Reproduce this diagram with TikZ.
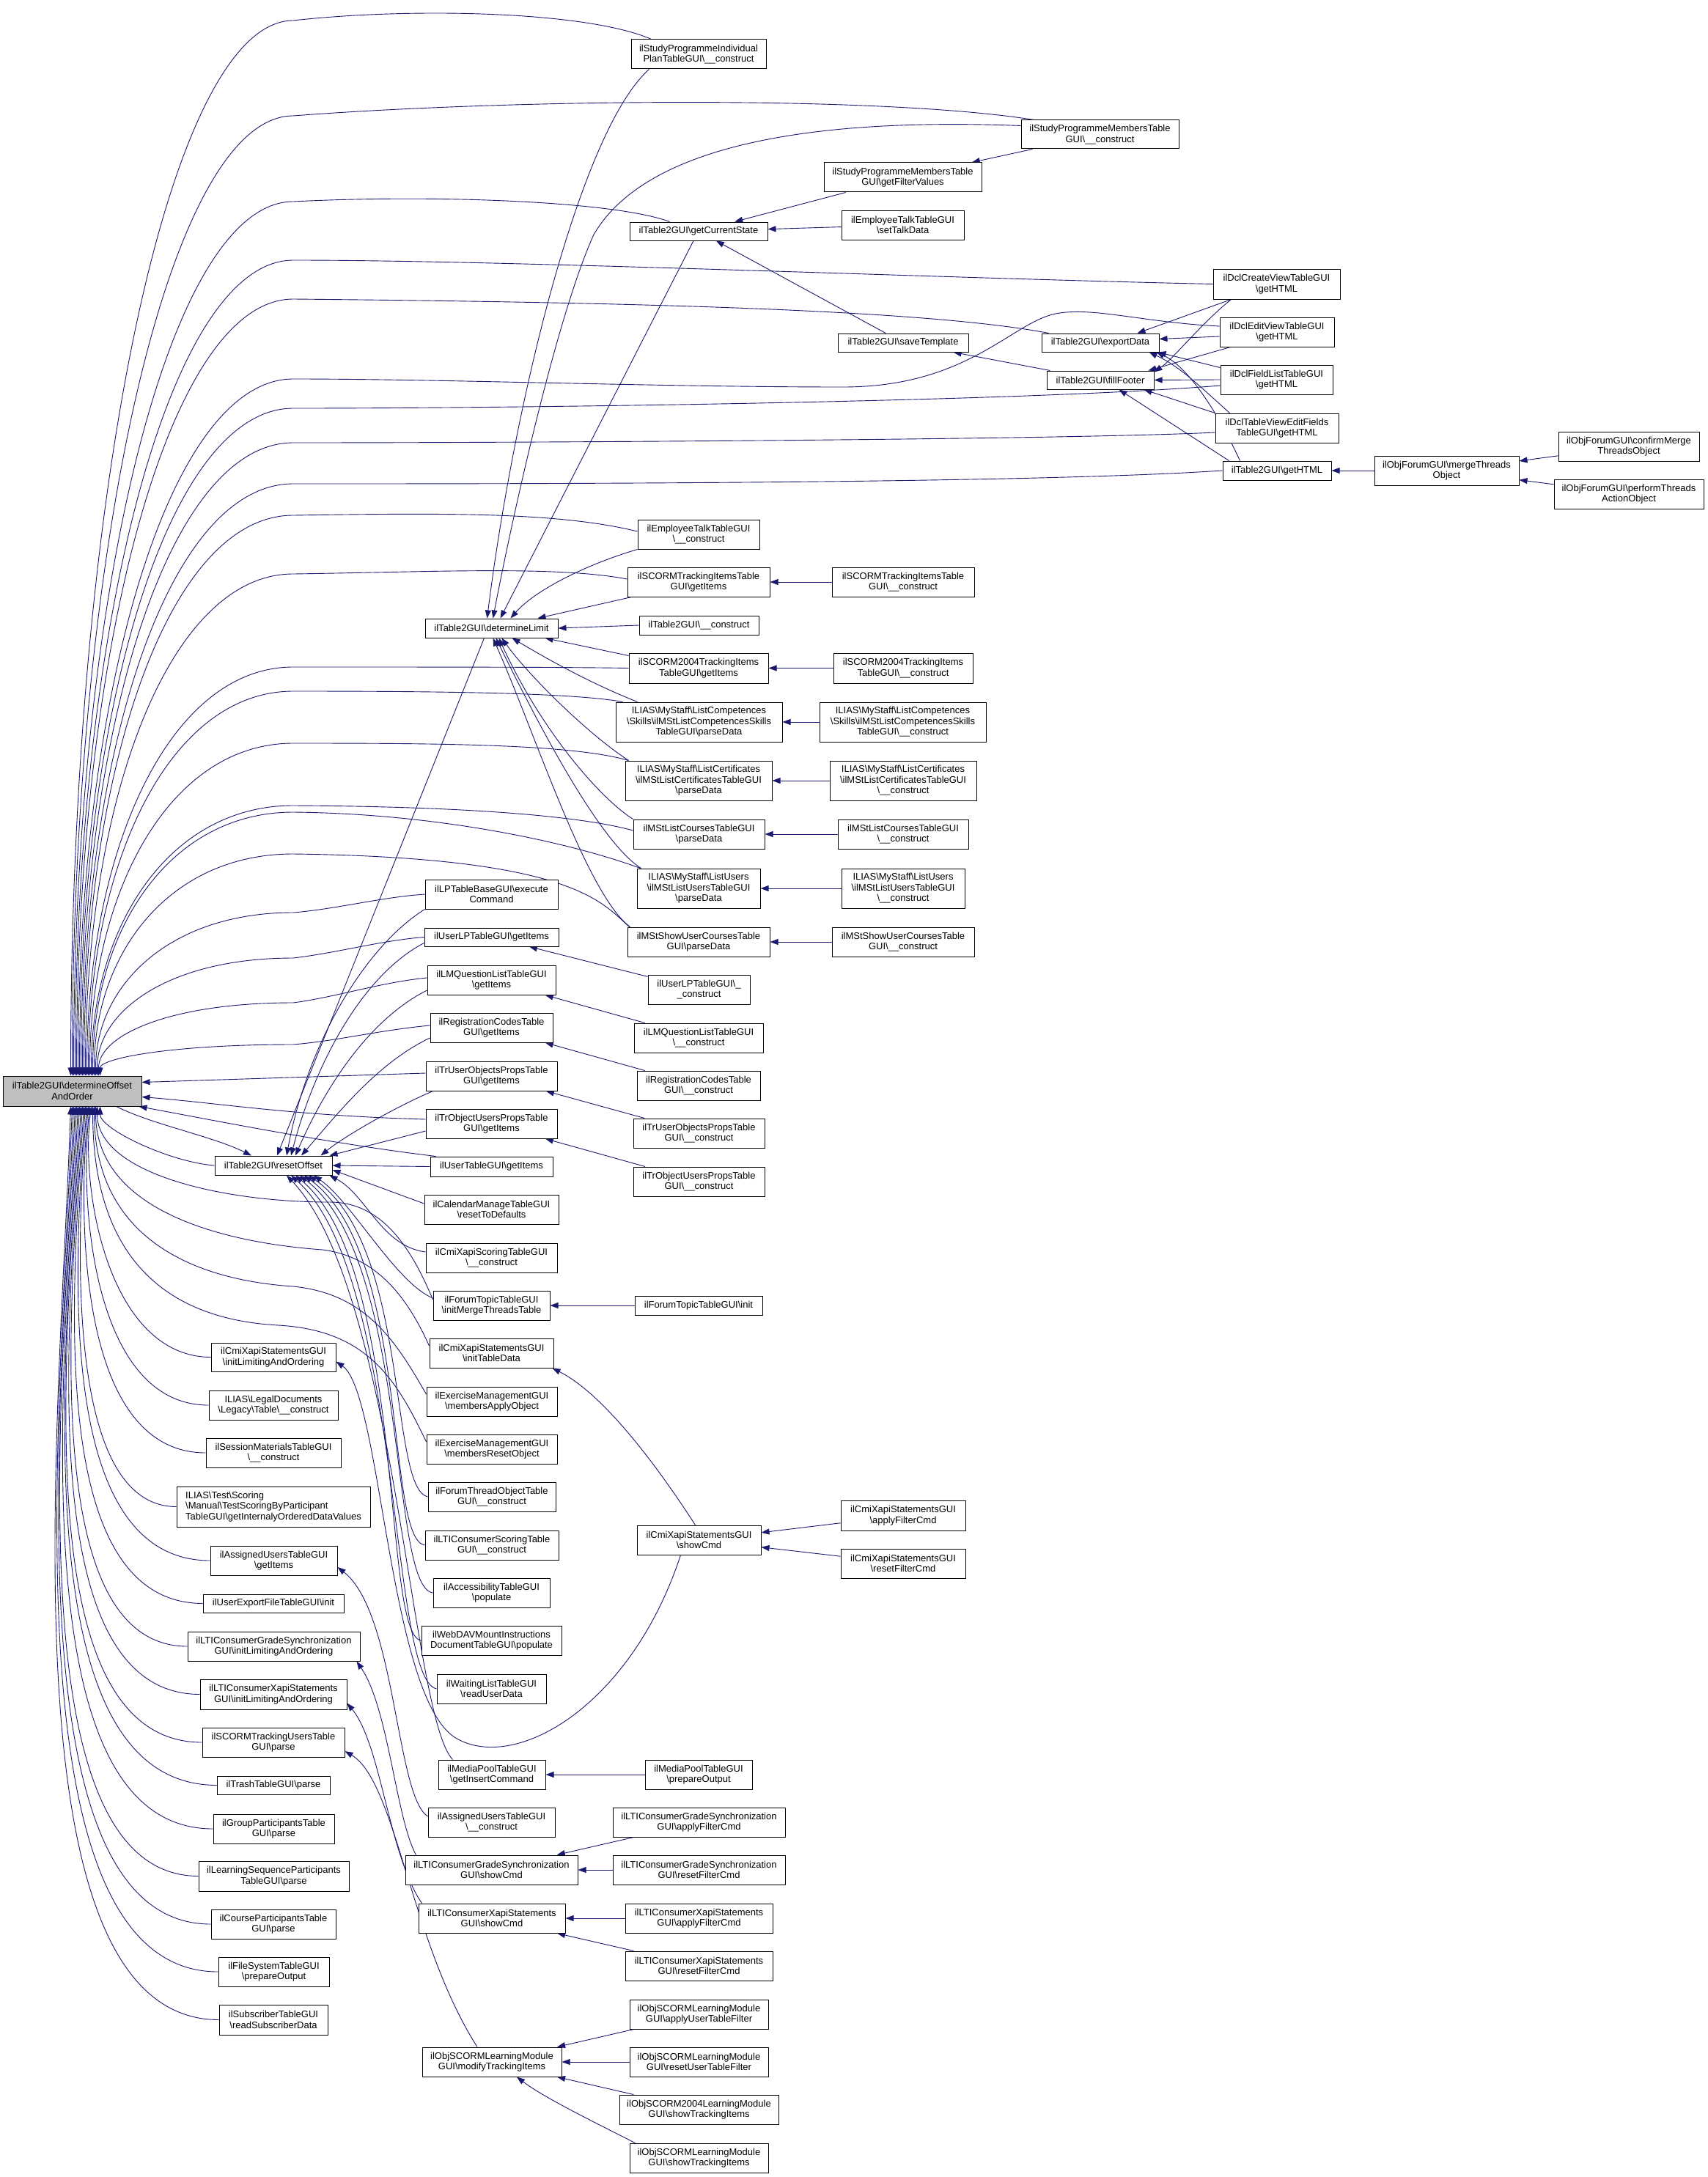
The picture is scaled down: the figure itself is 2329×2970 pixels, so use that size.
\documentclass[tikz,border=0pt]{standalone}
\usepackage{fontspec}
\setmainfont{Liberation Sans}
\usetikzlibrary{arrows.meta}
\definecolor{eblue}{HTML}{191970}
\definecolor{rootgray}{HTML}{BFBFBF}
\newcommand\bsl{\textbackslash}
\newcommand\gbox[7][]{\node[box,#1,minimum width={(#5-#3)*1pt},minimum height={(#6-#4)*1pt}] (#2) at ({(#3+#5)/2},{(#4+#6)/2}) {#7};}
\newcommand\upE[4]{\draw[edge] #1 .. controls #2 .. (400,#3) .. controls (230,#3) and ({98.5+#4},{#3+0.45*(1468-#3)}) .. ([xshift=#4pt]R.north);}
\newcommand\dnE[4]{\draw[edge] #1 .. controls (#2,#3) and ({83.5+#4},{1509+0.35*(#3-1509)}) .. ([xshift=#4pt]R.south);}
\pgfdeclarelayer{bg}
\pgfsetlayers{bg,main}
\tikzset{
  box/.style={draw=black, fill=white, line width=1pt, inner sep=0pt, align=center, font=\fontsize{13}{14.5}\selectfont},
  edge/.style={draw=eblue, line width=0.9pt, -{Triangle[length=11pt,width=8pt]}},
}
\begin{document}
\begin{tikzpicture}[x=1pt,y=-1pt]
\useasboundingbox (0,0) rectangle (2329,2970);
% ---------------- nodes ----------------
\gbox[fill=rootgray]{R}{4}{1468}{193}{1509}{ilTable2GUI\bsl determineOffset\\AndOrder}
\gbox{S}{293}{1577}{453}{1603}{ilTable2GUI\bsl resetOffset}
\gbox{L}{580}{844}{761}{870}{ilTable2GUI\bsl determineLimit}
\gbox{spi}{861}{54}{1045}{94}{ilStudyProgrammeIndividual\\PlanTableGUI\bsl\_\_construct}
\gbox{spmc}{1393}{164}{1608}{203}{ilStudyProgrammeMembersTable\\GUI\bsl\_\_construct}
\gbox{spmf}{1124}{222}{1339}{262}{ilStudyProgrammeMembersTable\\GUI\bsl getFilterValues}
\gbox{gcs}{859}{303}{1047}{328}{ilTable2GUI\bsl getCurrentState}
\gbox{etset}{1148}{287}{1315}{327}{ilEmployeeTalkTableGUI\\\bsl setTalkData}
\gbox{save}{1143}{455}{1321}{480}{ilTable2GUI\bsl saveTemplate}
\gbox{exp}{1421}{455}{1581}{480}{ilTable2GUI\bsl exportData}
\gbox{ff}{1428}{506}{1574}{531}{ilTable2GUI\bsl fillFooter}
\gbox{dclc}{1655}{367}{1828}{408}{ilDclCreateViewTableGUI\\\bsl getHTML}
\gbox{dcle}{1664}{433}{1820}{473}{ilDclEditViewTableGUI\\\bsl getHTML}
\gbox{dclf}{1665}{498}{1818}{538}{ilDclFieldListTableGUI\\\bsl getHTML}
\gbox{dclt}{1658}{564}{1826}{604}{ilDclTableViewEditFields\\TableGUI\bsl getHTML}
\gbox{html}{1668}{629}{1816}{655}{ilTable2GUI\bsl getHTML}
\gbox{merge}{1875}{622}{2072}{662}{ilObjForumGUI\bsl mergeThreads\\Object}
\gbox{confirm}{2126}{589}{2318}{629}{ilObjForumGUI\bsl confirmMerge\\ThreadsObject}
\gbox{perform}{2120}{654}{2324}{694}{ilObjForumGUI\bsl performThreads\\ActionObject}
\gbox{etc}{870}{709}{1036}{749}{ilEmployeeTalkTableGUI\\\bsl\_\_construct}
\gbox{scgi}{856}{774}{1050}{814}{ilSCORMTrackingItemsTable\\GUI\bsl getItems}
\gbox{scc}{1135}{774}{1329}{814}{ilSCORMTrackingItemsTable\\GUI\bsl\_\_construct}
\gbox{t2c}{872}{840}{1035}{866}{ilTable2GUI\bsl\_\_construct}
\gbox{s04gi}{858}{891}{1048}{932}{ilSCORM2004TrackingItems\\TableGUI\bsl getItems}
\gbox{s04c}{1137}{891}{1327}{932}{ilSCORM2004TrackingItems\\TableGUI\bsl\_\_construct}
\gbox{compp}{840}{958}{1067}{1012}{ILIAS\bsl MyStaff\bsl ListCompetences\\\bsl Skills\bsl ilMStListCompetencesSkills\\TableGUI\bsl parseData}
\gbox{compc}{1118}{958}{1345}{1012}{ILIAS\bsl MyStaff\bsl ListCompetences\\\bsl Skills\bsl ilMStListCompetencesSkills\\TableGUI\bsl\_\_construct}
\gbox{certp}{853}{1038}{1053}{1092}{ILIAS\bsl MyStaff\bsl ListCertificates\\\bsl ilMStListCertificatesTableGUI\\\bsl parseData}
\gbox{certc}{1132}{1038}{1332}{1092}{ILIAS\bsl MyStaff\bsl ListCertificates\\\bsl ilMStListCertificatesTableGUI\\\bsl\_\_construct}
\gbox{coursep}{864}{1118}{1043}{1158}{ilMStListCoursesTableGUI\\\bsl parseData}
\gbox{coursec}{1143}{1118}{1321}{1158}{ilMStListCoursesTableGUI\\\bsl\_\_construct}
\gbox{usersp}{869}{1185}{1037}{1239}{ILIAS\bsl MyStaff\bsl ListUsers\\\bsl ilMStListUsersTableGUI\\\bsl parseData}
\gbox{usersc}{1148}{1185}{1316}{1239}{ILIAS\bsl MyStaff\bsl ListUsers\\\bsl ilMStListUsersTableGUI\\\bsl\_\_construct}
\gbox{showp}{856}{1265}{1050}{1305}{ilMStShowUserCoursesTable\\GUI\bsl parseData}
\gbox{showc}{1135}{1265}{1329}{1305}{ilMStShowUserCoursesTable\\GUI\bsl\_\_construct}
\gbox{lpb}{580}{1200}{761}{1240}{ilLPTableBaseGUI\bsl execute\\Command}
\gbox{ulpg}{579}{1266}{762}{1291}{ilUserLPTableGUI\bsl getItems}
\gbox{ulpc}{884}{1330}{1023}{1370}{ilUserLPTableGUI\bsl\_\\\_construct}
\gbox{lmqg}{583}{1317}{758}{1357}{ilLMQuestionListTableGUI\\\bsl getItems}
\gbox{lmqc}{865}{1396}{1041}{1436}{ilLMQuestionListTableGUI\\\bsl\_\_construct}
\gbox{regg}{587}{1382}{754}{1422}{ilRegistrationCodesTable\\GUI\bsl getItems}
\gbox{regc}{869}{1461}{1037}{1501}{ilRegistrationCodesTable\\GUI\bsl\_\_construct}
\gbox{truog}{581}{1448}{760}{1488}{ilTrUserObjectsPropsTable\\GUI\bsl getItems}
\gbox{truoc}{864}{1526}{1043}{1566}{ilTrUserObjectsPropsTable\\GUI\bsl\_\_construct}
\gbox{troug}{581}{1513}{760}{1553}{ilTrObjectUsersPropsTable\\GUI\bsl getItems}
\gbox{trouc}{864}{1592}{1043}{1632}{ilTrObjectUsersPropsTable\\GUI\bsl\_\_construct}
\gbox{usertg}{587}{1578}{754}{1605}{ilUserTableGUI\bsl getItems}
\gbox{cal}{579}{1630}{762}{1670}{ilCalendarManageTableGUI\\\bsl resetToDefaults}
\gbox{cmisc}{581}{1696}{760}{1736}{ilCmiXapiScoringTableGUI\\\bsl\_\_construct}
\gbox{ftim}{591}{1761}{750}{1801}{ilForumTopicTableGUI\\\bsl initMergeThreadsTable}
\gbox{fti}{866}{1768}{1040}{1794}{ilForumTopicTableGUI\bsl init}
\gbox{cmitd}{586}{1826}{755}{1866}{ilCmiXapiStatementsGUI\\\bsl initTableData}
\gbox{exa}{582}{1892}{760}{1932}{ilExerciseManagementGUI\\\bsl membersApplyObject}
\gbox{exr}{582}{1957}{760}{1997}{ilExerciseManagementGUI\\\bsl membersResetObject}
\gbox{fto}{584}{2022}{758}{2062}{ilForumThreadObjectTable\\GUI\bsl\_\_construct}
\gbox{ltisc}{580}{2088}{762}{2128}{ilLTIConsumerScoringTable\\GUI\bsl\_\_construct}
\gbox{acc}{591}{2153}{750}{2193}{ilAccessibilityTableGUI\\\bsl populate}
\gbox{webdav}{575}{2218}{766}{2258}{ilWebDAVMountInstructions\\DocumentTableGUI\bsl populate}
\gbox{wait}{596}{2284}{745}{2324}{ilWaitingListTableGUI\\\bsl readUserData}
\gbox{mpgi}{598}{2401}{744}{2441}{ilMediaPoolTableGUI\\\bsl getInsertCommand}
\gbox{mppo}{880}{2401}{1026}{2441}{ilMediaPoolTableGUI\\\bsl prepareOutput}
\gbox{auc}{584}{2466}{757}{2506}{ilAssignedUsersTableGUI\\\bsl\_\_construct}
\gbox{ltigs}{553}{2531}{788}{2571}{ilLTIConsumerGradeSynchronization\\GUI\bsl showCmd}
\gbox{ltigsa}{836}{2466}{1071}{2506}{ilLTIConsumerGradeSynchronization\\GUI\bsl applyFilterCmd}
\gbox{ltigsr}{836}{2531}{1071}{2571}{ilLTIConsumerGradeSynchronization\\GUI\bsl resetFilterCmd}
\gbox{ltixs}{571}{2597}{771}{2637}{ilLTIConsumerXapiStatements\\GUI\bsl showCmd}
\gbox{ltixa}{853}{2597}{1054}{2637}{ilLTIConsumerXapiStatements\\GUI\bsl applyFilterCmd}
\gbox{ltixr}{853}{2662}{1054}{2702}{ilLTIConsumerXapiStatements\\GUI\bsl resetFilterCmd}
\gbox{mti}{576}{2793}{766}{2833}{ilObjSCORMLearningModule\\GUI\bsl modifyTrackingItems}
\gbox{mtia}{859}{2728}{1048}{2768}{ilObjSCORMLearningModule\\GUI\bsl applyUserTableFilter}
\gbox{mtir}{859}{2793}{1048}{2833}{ilObjSCORMLearningModule\\GUI\bsl resetUserTableFilter}
\gbox{s04st}{845}{2858}{1062}{2898}{ilObjSCORM2004LearningModule\\GUI\bsl showTrackingItems}
\gbox{sst}{859}{2924}{1048}{2964}{ilObjSCORMLearningModule\\GUI\bsl showTrackingItems}
\gbox{cmis}{869}{2081}{1038}{2121}{ilCmiXapiStatementsGUI\\\bsl showCmd}
\gbox{cmisa}{1147}{2047}{1317}{2088}{ilCmiXapiStatementsGUI\\\bsl applyFilterCmd}
\gbox{cmisr}{1147}{2113}{1317}{2153}{ilCmiXapiStatementsGUI\\\bsl resetFilterCmd}
\gbox{cmil}{288}{1832}{458}{1871}{ilCmiXapiStatementsGUI\\\bsl initLimitingAndOrdering}
\gbox{legal}{285}{1897}{461}{1937}{ILIAS\bsl LegalDocuments\\\bsl Legacy\bsl Table\bsl\_\_construct}
\gbox{sess}{281}{1962}{465}{2002}{ilSessionMaterialsTableGUI\\\bsl\_\_construct}
\gbox[align=left]{tsc}{241}{2028}{505}{2083}{ILIAS\bsl Test\bsl Scoring\\\bsl Manual\bsl TestScoringByParticipant\\TableGUI\bsl getInternalyOrderedDataValues}
\gbox{augi}{287}{2109}{460}{2149}{ilAssignedUsersTableGUI\\\bsl getItems}
\gbox{uef}{277}{2175}{469}{2200}{ilUserExportFileTableGUI\bsl init}
\gbox{ltigl}{256}{2226}{491}{2266}{ilLTIConsumerGradeSynchronization\\GUI\bsl initLimitingAndOrdering}
\gbox{ltixl}{273}{2291}{473}{2332}{ilLTIConsumerXapiStatements\\GUI\bsl initLimitingAndOrdering}
\gbox{scup}{276}{2357}{470}{2397}{ilSCORMTrackingUsersTable\\GUI\bsl parse}
\gbox{trash}{296}{2423}{450}{2448}{ilTrashTableGUI\bsl parse}
\gbox{group}{291}{2475}{456}{2515}{ilGroupParticipantsTable\\GUI\bsl parse}
\gbox{lsp}{271}{2539}{476}{2580}{ilLearningSequenceParticipants\\TableGUI\bsl parse}
\gbox{cpt}{288}{2605}{458}{2645}{ilCourseParticipantsTable\\GUI\bsl parse}
\gbox{fs}{298}{2670}{449}{2710}{ilFileSystemTableGUI\\\bsl prepareOutput}
\gbox{subs}{299}{2735}{447}{2776}{ilSubscriberTableGUI\\\bsl readSubscriberData}
% ---------------- edges ----------------
\begin{pgfonlayer}{bg}
\fill[white] (0,0) rectangle (2329,2970);
% root <- callers above
\upE{([xshift=28pt]spi.north west)}{(800,15) and (560,10)}{28}{-2}
\upE{([xshift=18pt]spmc.north west)}{(1200,130) and (700,135)}{158}{0}
\upE{([xshift=55pt]gcs.north west)}{(840,275) and (600,265)}{275}{2}
\upE{(dclc.west)}{(1300,380) and (700,355)}{355}{4}
\upE{([xshift=10pt]exp.north west)}{(1250,420) and (800,412)}{408}{6}
\draw[edge] ([yshift=8pt]dcle.west) .. controls (1560,440) and (1490,418) .. (1440,428) .. controls (1380,440) and (1320,528) .. (1150,528) .. controls (900,528) and (600,517) .. (400,517) .. controls (230,517) and ({98.5+8},{517+0.45*951}) .. ([xshift=8pt]R.north);
\upE{([yshift=-8pt]dclf.west)}{(1400,548) and (700,557)}{557}{10}
\upE{([yshift=-6pt]dclt.west)}{(1450,600) and (700,604)}{604}{12}
\upE{(html.west)}{(1400,660) and (700,660)}{660}{14}
\upE{([yshift=4pt]etc.west)}{(760,698) and (600,700)}{703}{16}
\upE{([yshift=4pt]scgi.west)}{(760,772) and (600,780)}{783}{18}
\upE{(s04gi.west)}{(760,910) and (600,910)}{910}{20}
\upE{([xshift=10pt]compp.north west)}{(780,945) and (600,943)}{943}{22}
\upE{([xshift=5pt]certp.north west)}{(780,1015) and (600,1014)}{1014}{24}
\upE{([yshift=5pt]coursep.west)}{(780,1110) and (600,1100)}{1099}{26}
\upE{([xshift=5pt]usersp.north west)}{(780,1150) and (600,1110)}{1108}{28}
\upE{([xshift=3pt]showp.north west)}{(820,1230) and (780,1170)}{1165}{30}
\upE{(lpb.west)}{(520,1224) and (460,1240)}{1245}{32}
\upE{(ulpg.west)}{(520,1283) and (460,1300)}{1307}{34}
\upE{([yshift=3pt]lmqg.west)}{(520,1340) and (460,1360)}{1368}{36}
\upE{([yshift=3pt]regg.west)}{(520,1405) and (460,1420)}{1425}{38}
\draw[edge] ([yshift=4pt]truog.west) -- ([yshift=12pt]R.east);
\draw[edge] ([yshift=6pt]troug.west) .. controls (400,1522) and (300,1505) .. ([yshift=-8pt]R.east);
\draw[edge] ([xshift=8pt]usertg.north west) .. controls (450,1560) and (300,1530) .. ([xshift=-4pt]R.south east);
% root <- callers below
\dnE{(cmil.west)}{150}{1851}{26}
\dnE{(legal.west)}{130}{1917}{24}
\dnE{(sess.west)}{110}{1982}{22}
\dnE{(tsc.west)}{90}{2055}{20}
\dnE{(augi.west)}{75}{2129}{18}
\dnE{(uef.west)}{60}{2187}{16}
\dnE{(ltigl.west)}{50}{2246}{14}
\dnE{(ltixl.west)}{40}{2311}{12}
\dnE{(scup.west)}{30}{2377}{10}
\dnE{(trash.west)}{25}{2435}{8}
\dnE{(group.west)}{20}{2495}{6}
\dnE{(lsp.west)}{15}{2559}{4}
\dnE{(cpt.west)}{10}{2625}{2}
\dnE{(fs.west)}{5}{2690}{0}
\dnE{(subs.west)}{0}{2755}{-2}
\draw[edge] ([yshift=8pt]ftim.west) .. controls (560,1700) and (520,1640) .. (450,1640) .. controls (300,1640) and (133,1600) .. ([xshift=34pt]R.south);
\draw[edge] ([yshift=10pt]cmitd.west) .. controls (560,1780) and (520,1715) .. (440,1705) .. controls (300,1695) and (131,1650) .. ([xshift=32pt]R.south);
\draw[edge] ([yshift=10pt]exa.west) .. controls (540,1830) and (500,1765) .. (400,1755) .. controls (250,1745) and (129,1680) .. ([xshift=30pt]R.south);
\draw[edge] ([yshift=10pt]exr.west) .. controls (540,1880) and (500,1815) .. (380,1808) .. controls (230,1800) and (127,1720) .. ([xshift=28pt]R.south);
% root <-> resetOffset
\draw[edge] ([xshift=60pt]R.south) .. controls (210,1535) and (290,1550) .. ([xshift=-30pt]S.north);
\draw[edge] (S.west) .. controls (230,1585) and (136.5,1540) .. ([xshift=38pt]R.south);
% resetOffset <- callers
\draw[edge] ([xshift=-10pt]L.south) -- ([xshift=5pt]S.north);
\draw[edge] (lpb.south west) .. controls (500,1290) and (420,1420) .. ([xshift=18pt]S.north);
\draw[edge] ([yshift=-8pt]ulpg.west) .. controls (495,1330) and (430,1450) .. ([xshift=24pt]S.north);
\draw[edge] ([yshift=-14pt]lmqg.west) .. controls (505,1390) and (445,1480) .. ([xshift=30pt]S.north);
\draw[edge] ([yshift=-14pt]regg.west) .. controls (515,1450) and (460,1520) .. ([xshift=38pt]S.north);
\draw[edge] ([xshift=10pt]truog.south west) .. controls (540,1510) and (470,1550) .. ([xshift=-16pt]S.north east);
\draw[edge] ([yshift=-10pt]troug.west) -- ([xshift=-4pt]S.north east);
\draw[edge] (usertg.west) -- (S.east);
\draw[edge] ([yshift=8pt]cal.west) -- ([yshift=-6pt]S.east);
\draw[edge] ([yshift=8pt]cmisc.west) .. controls (520,1700) and (500,1630) .. ([xshift=-4pt]S.south east);
\draw[edge] ([yshift=10pt]ftim.west) .. controls (540,1750) and (480,1640) .. ([xshift=55pt]S.south);
\draw[edge] (fto.west) .. controls (530,2030) and (560,1700) .. ([xshift=48pt]S.south);
\draw[edge] (ltisc.west) .. controls (525,2100) and (560,1710) .. ([xshift=42pt]S.south);
\draw[edge] (acc.west) .. controls (530,2165) and (560,1720) .. ([xshift=36pt]S.south);
\draw[edge] (webdav.west) .. controls (520,2230) and (555,1730) .. ([xshift=30pt]S.south);
\draw[edge] (wait.west) .. controls (530,2290) and (550,1740) .. ([xshift=24pt]S.south);
\draw[edge] ([xshift=20pt]mpgi.north west) .. controls (560,2340) and (540,1760) .. ([xshift=18pt]S.south);
% determineLimit <- callers
\draw[edge] ([xshift=25pt]spi.south west) .. controls (790,180) and (700,560) .. ([xshift=-6pt]L.north);
\draw[edge] ([yshift=12pt]spmc.west) .. controls (1100,160) and (880,200) .. (810,320) .. controls (760,430) and (700,700) .. ([xshift=2pt]L.north);
\draw[edge] ([xshift=-7pt]gcs.south) -- ([xshift=12pt]L.north);
\draw[edge] (etc.south west) .. controls (800,770) and (730,805) .. ([xshift=26pt]L.north);
\draw[edge] ([xshift=6pt]scgi.south west) -- ([xshift=-28pt]L.north east);
\draw[edge] (t2c.west) -- (L.east);
\draw[edge] ([yshift=-4pt]s04gi.north west) -- ([xshift=-18pt]L.south east);
\draw[edge] ([xshift=30pt]compp.north west) .. controls (800,930) and (740,895) .. ([xshift=28pt]L.south);
\draw[edge] ([xshift=5pt]certp.north west) .. controls (800,1000) and (720,920) .. ([xshift=14pt]L.south);
\draw[edge] (coursep.north west) .. controls (820,1090) and (740,1000) .. ([xshift=10pt]L.south);
\draw[edge] ([xshift=6pt]usersp.north west) .. controls (820,1150) and (740,1000) .. ([xshift=6pt]L.south);
\draw[edge] ([xshift=4pt]showp.north west) .. controls (800,1220) and (730,1000) .. ([xshift=2pt]L.south);
% top-right cluster
\draw[edge] (spmc) -- (spmf);
\draw[edge] (spmf) -- (gcs);
\draw[edge] (etset) -- (gcs);
\draw[edge] (save) -- (gcs);
\draw[edge] (ff) -- (save);
\draw[edge] ([xshift=25pt]dclc.south west) -- ([xshift=-30pt]exp.north east);
\draw[edge] ([xshift=25pt]dclc.south west) .. controls (1640,440) and (1600,490) .. ([yshift=-2pt]ff.north east);
\draw[edge] ([yshift=-6pt]dcle.west) -- ([yshift=5pt]exp.east);
\draw[edge] ([xshift=15pt]dcle.south west) -- ([xshift=-8pt]ff.north east);
\draw[edge] ([yshift=-4pt]dclf.north west) -- ([xshift=-2pt]exp.south east);
\draw[edge] (dclf.west) -- (ff.east);
\draw[edge] ([xshift=20pt]dclt.north west) .. controls (1640,530) and (1610,500) .. ([xshift=-14pt]exp.south east);
\draw[edge] (dclt.north west) -- ([xshift=-14pt]ff.south east);
\draw[edge] ([xshift=24pt]html.north west) .. controls (1660,560) and (1620,500) .. ([xshift=-4pt]exp.south east);
\draw[edge] ([xshift=9pt]html.north west) -- ([xshift=-48pt]ff.south east);
\draw[edge] (merge) -- (html);
\draw[edge] (confirm) -- (merge);
\draw[edge] (perform) -- (merge);
% pairs
\draw[edge] (scc) -- (scgi);
\draw[edge] (s04c) -- (s04gi);
\draw[edge] (compc) -- (compp);
\draw[edge] (certc) -- (certp);
\draw[edge] (coursec) -- (coursep);
\draw[edge] (usersc) -- (usersp);
\draw[edge] (showc) -- (showp);
\draw[edge] (ulpc) -- (ulpg);
\draw[edge] (lmqc) -- (lmqg);
\draw[edge] (regc) -- (regg);
\draw[edge] (truoc) -- (truog);
\draw[edge] (trouc) -- (troug);
\draw[edge] (fti) -- (ftim);
\draw[edge] (mppo) -- (mpgi);
\draw[edge] (cmisa) -- (cmis);
\draw[edge] (cmisr) -- (cmis);
\draw[edge] (ltigsa) -- (ltigs);
\draw[edge] (ltigsr) -- (ltigs);
\draw[edge] (ltixa) -- (ltixs);
\draw[edge] (ltixr) -- (ltixs);
\draw[edge] (mtia) -- (mti);
\draw[edge] (mtir) -- (mti);
\draw[edge] (s04st) -- (mti);
\draw[edge] ([xshift=8pt]sst.north west) .. controls (800,2890) and (740,2860) .. ([xshift=34pt]mti.south);
\draw[edge] ([xshift=-5pt]cmis.north) .. controls (890,1990) and (820,1900) .. ([xshift=-2pt]cmitd.south east);
\draw[edge] ([xshift=-25pt]cmis.south) .. controls (860,2330) and (700,2420) .. (620,2370) .. controls (530,2310) and (520,1900) .. ([yshift=-6pt]cmil.east);
\draw[edge] ([yshift=8pt]auc.west) .. controls (540,2450) and (540,2200) .. ([yshift=-9pt]augi.east);
\draw[edge] ([xshift=15pt]ltigs.north west) .. controls (540,2480) and (530,2330) .. ([xshift=-5pt]ltigl.south east);
\draw[edge] ([xshift=5pt]ltixs.north west) .. controls (530,2530) and (520,2380) .. ([yshift=-12pt]ltixl.east);
\draw[edge] ([xshift=-20pt]mti.north) .. controls (560,2650) and (540,2430) .. ([yshift=-12pt]scup.east);
\end{pgfonlayer}
\end{tikzpicture}
\end{document}
